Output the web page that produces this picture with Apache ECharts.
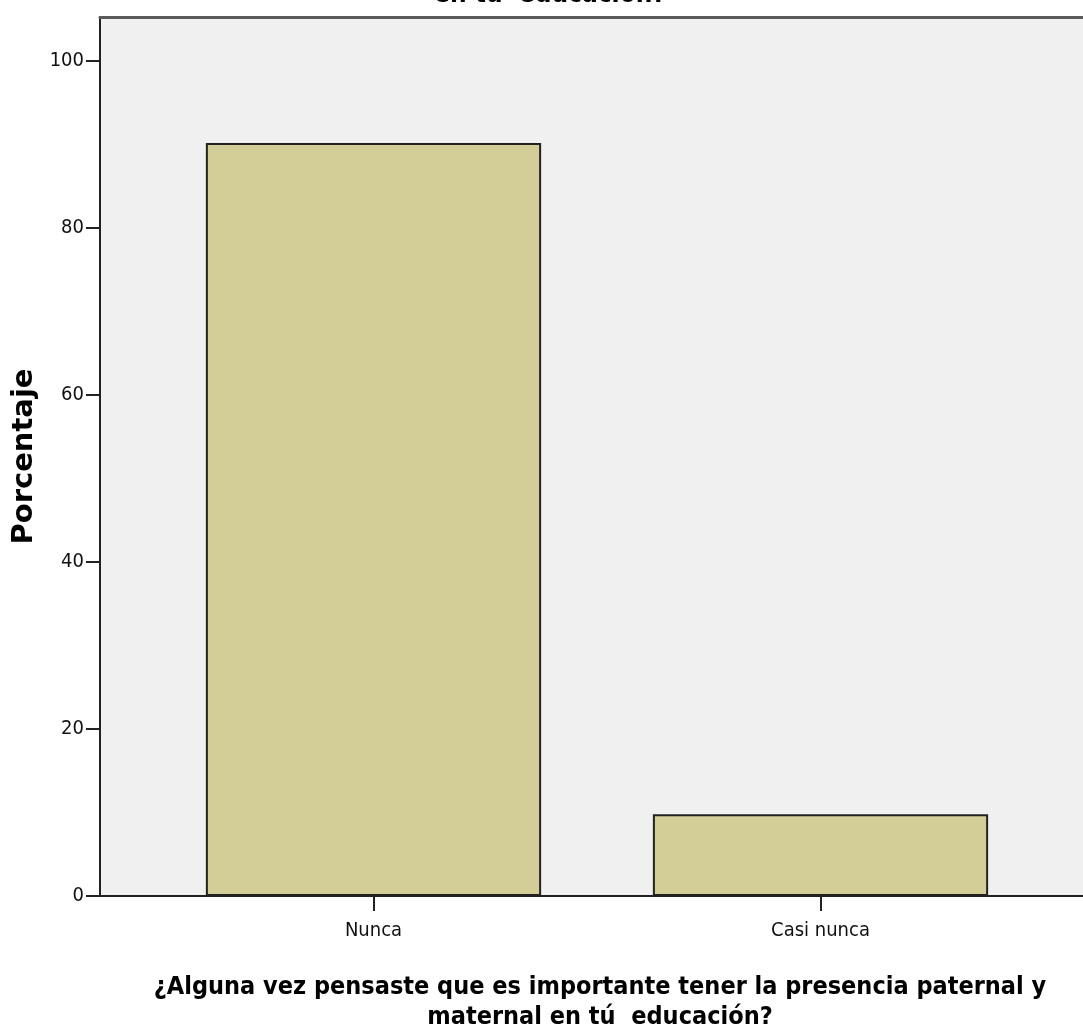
<!DOCTYPE html>
<html>
<head>
<meta charset="utf-8">
<script src="https://cdn.jsdelivr.net/npm/echarts@6/dist/echarts.min.js"></script>
<style>html,body{margin:0;padding:0;background:#fff}#c{width:1083px;height:1032px}</style>
</head>
<body>
<div id="c"></div>
<script>
const categories = ['Nunca', 'Casi nunca'];
const percentages = [90.2, 9.8];
const yTicks = [0, 20, 40, 60, 80, 100];
const titleText = 'en tu  educación?';
const xTitle = '¿Alguna vez pensaste que es importante tener la presencia paternal y\nmaternal en tú  educación?';
const yTitle = 'Porcentaje';

const narrow = "'Liberation Sans Narrow','DejaVu Sans Condensed','Arial Narrow',sans-serif";
const chart = echarts.init(document.getElementById('c'), null, {renderer: 'canvas'});
const Y_MAX = 105.3;
chart.setOption({
  animation: false,
  backgroundColor: '#ffffff',
  title: {
    text: titleText, left: 545, textAlign: 'center', top: -23,
    textStyle: {fontFamily: narrow, fontWeight: 'bold', fontSize: 26, color: '#000'}
  },
  grid: [
    {left: 100, top: 17, width: 1000, bottom: 136, show: true, backgroundColor: '#f0f0f0', borderWidth: 0, outerBoundsMode: 'none', containLabel: false},
    {left: 150, top: 17, width: 894, bottom: 136, outerBoundsMode: 'none', containLabel: false}
  ],
  xAxis: [
    {
      gridIndex: 0, type: 'value', min: 0, max: 1, position: 'bottom',
      axisLine: {show: true, onZero: false, lineStyle: {color: '#222', width: 2}},
      axisTick: {show: false}, axisLabel: {show: false}, splitLine: {show: false},
      name: xTitle, nameLocation: 'middle', nameGap: 76,
      nameTextStyle: {fontFamily: narrow, fontWeight: 'bold', fontSize: 25, color: '#000', lineHeight: 30, align: 'center'}
    },
    {
      gridIndex: 0, type: 'value', min: 0, max: 1, position: 'top',
      axisLine: {show: true, onZero: false, lineStyle: {color: '#5a5a5a', width: 3}},
      axisTick: {show: false}, axisLabel: {show: false}, splitLine: {show: false}
    },
    {
      gridIndex: 1, type: 'category', data: categories,
      axisLine: {show: false},
      axisTick: {show: true, alignWithLabel: true, length: 15, lineStyle: {color: '#222', width: 2}},
      axisLabel: {fontFamily: narrow, fontSize: 20, color: '#111', margin: 25}
    }
  ],
  yAxis: [
    {
      gridIndex: 0, type: 'value', min: 0, max: Y_MAX, interval: 20,
      axisLine: {show: true, lineStyle: {color: '#222', width: 2}},
      axisTick: {show: true, length: 14, lineStyle: {color: '#222', width: 2}, customValues: yTicks},
      axisLabel: {fontFamily: narrow, fontSize: 20, color: '#111', margin: 16, customValues: yTicks},
      splitLine: {show: false},
      name: yTitle, nameLocation: 'middle', nameGap: 58, nameRotate: 90,
      nameTextStyle: {fontFamily: "'DejaVu Sans',sans-serif", fontWeight: 'bold', fontSize: 29, color: '#000'}
    },
    {
      gridIndex: 1, type: 'value', min: 0, max: Y_MAX, show: false
    }
  ],
  series: [{
    type: 'bar', xAxisIndex: 2, yAxisIndex: 1,
    data: percentages, barWidth: '75%',
    itemStyle: {color: '#d3ce97', borderColor: '#222', borderWidth: 2}
  }]
});
</script>
</body>
</html>
